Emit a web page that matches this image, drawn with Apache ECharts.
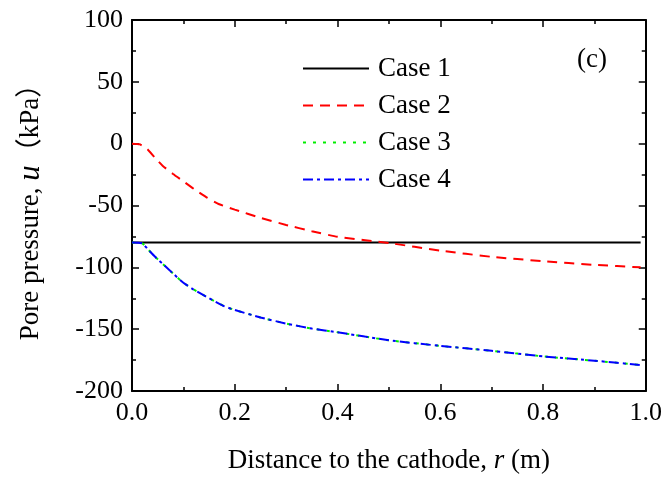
<!DOCTYPE html>
<html>
<head>
<meta charset="utf-8">
<script src="https://cdn.jsdelivr.net/npm/echarts@6/dist/echarts.min.js"></script>
<style>
  html, body { margin: 0; padding: 0; background: #ffffff; }
  #chart { width: 665px; height: 479px; }
</style>
</head>
<body>
<div id="chart"></div>
<script>
// Distance to the cathode r (m) and pore pressure u (kPa) for each case
const caseNames = ['Case 1', 'Case 2', 'Case 3', 'Case 4'];

const r1 = [0, 0.99];
const u1 = [-80, -80];

const r2 = [0, 0.015, 0.03, 0.045, 0.06, 0.08, 0.1, 0.12, 0.145, 0.17, 0.2, 0.25, 0.3, 0.35, 0.4, 0.5, 0.6, 0.7, 0.8, 0.9, 0.99];
const u2 = [0, -0.5, -4.5, -11.5, -18, -24.5, -30.5, -36.5, -43.4, -49, -53.3, -60, -65.7, -70.8, -75.3, -80.3, -86.5, -91.5, -95, -98, -100];

const r3 = [0, 0.02, 0.03, 0.045, 0.06, 0.08, 0.1, 0.12, 0.15, 0.18, 0.2, 0.25, 0.3, 0.35, 0.4, 0.5, 0.6, 0.7, 0.8, 0.9, 0.99];
const u3 = [-80, -80.5, -85, -91.5, -97.3, -105, -112.5, -118, -125, -131.5, -134.5, -140.5, -145.5, -149.5, -152.5, -159, -163.5, -167.5, -172, -175.5, -179];

const r4 = r3.slice();
const u4 = u3.slice();

const xTicks = { min: 0, max: 1, interval: 0.2 };
const yTicks = { min: -200, max: 100, interval: 50 };

const pairs = (xs, ys) => xs.map((x, i) => [x, ys[i]]);

const serif = '"Liberation Serif", "Times New Roman", serif';
const tickFont = 26;
const textFont = 27;

const chart = echarts.init(document.getElementById('chart'), null, { renderer: 'canvas' });

const frameAxis = {
  axisLine: { show: true, onZero: false, lineStyle: { color: '#000', width: 2 } },
  axisTick: { show: true, inside: true, length: 7, lineStyle: { color: '#000', width: 1.5 } },
  minorTick: { show: true, splitNumber: 2, length: 4, lineStyle: { color: '#000', width: 1.5 } },
  splitLine: { show: false },
  minorSplitLine: { show: false }
};

const lineSeries = (name, data, color, type, width) => ({
  name: name,
  type: 'line',
  data: data,
  xAxisIndex: 0,
  yAxisIndex: 0,
  symbol: 'none',
  smooth: 0.15,
  silent: true,
  animation: false,
  lineStyle: { color: color, width: width, type: type },
  itemStyle: { color: color }
});

chart.setOption({
  backgroundColor: '#ffffff',
  animation: false,
  textStyle: { fontFamily: serif },
  grid: { left: 132, right: 18, top: 20, bottom: 86, containLabel: false },
  title: {
    text: '(c)',
    left: 572,
    top: 41,
    textStyle: { fontFamily: serif, fontSize: textFont, fontWeight: 'normal', color: '#000' }
  },
  legend: {
    data: caseNames,
    orient: 'vertical',
    left: 302,
    top: 55,
    padding: 0,
    itemWidth: 66,
    itemHeight: 14,
    itemGap: 10,
    selectedMode: false,
    itemStyle: { opacity: 0 },
    textStyle: { fontFamily: serif, fontSize: textFont, color: '#000', padding: [0, 0, 0, 4] }
  },
  xAxis: [
    Object.assign({
      type: 'value',
      position: 'bottom',
      min: xTicks.min,
      max: xTicks.max,
      interval: xTicks.interval,
      name: '{a|Distance to the cathode, }{i|r}{a| (m)}',
      nameLocation: 'middle',
      nameGap: 56,
      nameTextStyle: {
        rich: {
          a: { fontFamily: serif, fontSize: textFont, color: '#000' },
          i: { fontFamily: serif, fontSize: textFont, fontStyle: 'italic', color: '#000' }
        }
      },
      axisLabel: {
        margin: 9,
        fontFamily: serif,
        fontSize: tickFont,
        color: '#000',
        formatter: v => v.toFixed(1)
      }
    }, frameAxis),
    Object.assign({
      type: 'value',
      position: 'top',
      min: xTicks.min,
      max: xTicks.max,
      interval: xTicks.interval,
      axisLabel: { show: false }
    }, frameAxis)
  ],
  yAxis: [
    Object.assign({
      type: 'value',
      position: 'left',
      min: yTicks.min,
      max: yTicks.max,
      interval: yTicks.interval,
      name: '{a|Pore pressure, }{i|u}{a|（kPa）}',
      nameLocation: 'middle',
      nameGap: 86,
      nameRotate: 90,
      nameTextStyle: {
        rich: {
          a: { fontFamily: serif + ', "Noto Sans CJK SC"', fontSize: textFont, color: '#000' },
          i: { fontFamily: serif, fontSize: textFont + 4, fontStyle: 'italic', color: '#000' }
        }
      },
      axisLabel: {
        margin: 9,
        fontFamily: serif,
        fontSize: tickFont,
        color: '#000',
        formatter: v => String(v)
      }
    }, frameAxis),
    Object.assign({
      type: 'value',
      position: 'right',
      min: yTicks.min,
      max: yTicks.max,
      interval: yTicks.interval,
      axisLabel: { show: false }
    }, frameAxis)
  ],
  series: [
    lineSeries(caseNames[0], pairs(r1, u1), '#000000', 'solid', 2),
    lineSeries(caseNames[1], pairs(r2, u2), '#ff0000', [10, 7], 2),
    lineSeries(caseNames[2], pairs(r3, u3), '#00ee00', [3, 7], 2),
    lineSeries(caseNames[3], pairs(r4, u4), '#0000ff', [10, 4, 3, 4], 2)
  ]
});
</script>
</body>
</html>
